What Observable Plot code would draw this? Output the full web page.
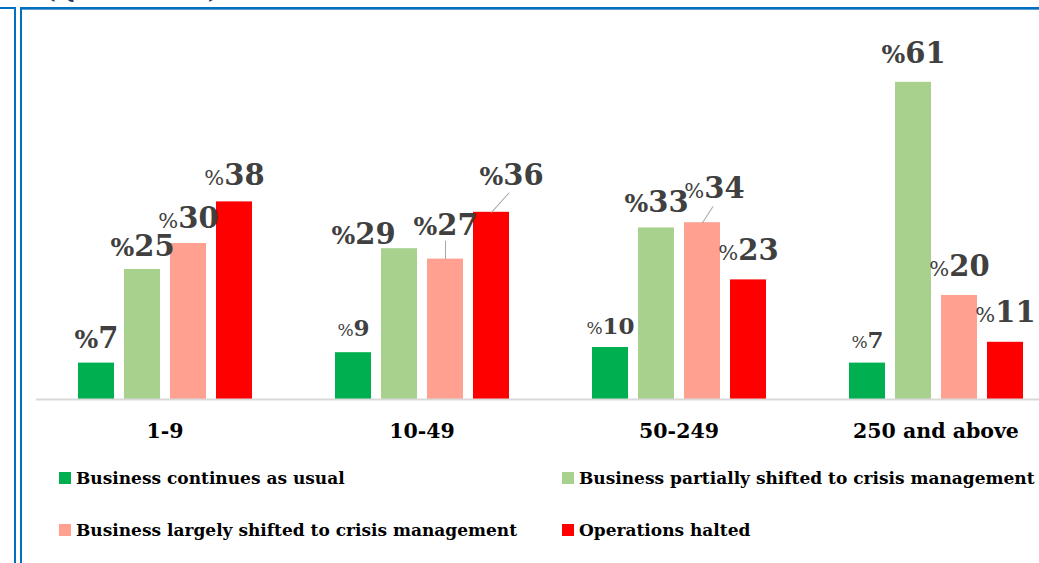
<!DOCTYPE html>
<html><head><meta charset="utf-8">
<script src="https://cdn.jsdelivr.net/npm/d3@7"></script>
<script src="https://cdn.jsdelivr.net/npm/@observablehq/plot@0.6"></script>
<style>
html,body{margin:0;padding:0;background:#fff;}
body{width:1039px;height:563px;overflow:hidden;position:relative;font-family:"DejaVu Serif",serif;}
#chart{position:absolute;left:0;top:0;}
#chart svg{max-width:none !important;}
.fr{position:absolute;background:#0070c0;}
.fr2{position:absolute;background:#5b9bd5;}
#title{position:absolute;left:44px;top:-25px;font:bold 25px "DejaVu Serif",serif;color:#1f3864;white-space:nowrap;}
#legend{position:absolute;left:59px;top:466px;display:grid;grid-template-columns:503px auto;row-gap:28px;}
.item{display:flex;align-items:center;height:24px;font:bold 17px "DejaVu Serif",serif;color:#000;white-space:nowrap;}
.sw{width:12px;height:12px;margin-right:5px;flex:none;}
</style></head>
<body>
<div id="title">(Question 4)</div>
<div id="chart"></div>
<div id="legend"></div>
<div class="fr" style="left:0;top:7px;width:16px;height:2px"></div>
<div class="fr" style="left:14px;top:7px;width:2px;height:560px"></div>
<div class="fr" style="left:20px;top:7px;width:2px;height:560px"></div>
<div class="fr" style="left:20px;top:7px;width:1019px;height:2px"></div>
<div class="fr2" style="left:22px;top:9px;width:1017px;height:1px"></div>
<script>
// ---- data ----
const groups = ["1-9", "10-49", "50-249", "250 and above"];
const series = [
  "Business continues as usual",
  "Business partially shifted to crisis management",
  "Business largely shifted to crisis management",
  "Operations halted"
];
const continuesAsUsual = [7, 9, 10, 7];
const partiallyShifted = [25, 29, 33, 61];
const largelyShifted = [30, 27, 34, 20];
const operationsHalted = [38, 36, 23, 11];

// ---- styles (separate from data) ----
const seriesColors = ["#00b050", "#a9d18e", "#ffa091", "#ff0000"];
// label style per group (rows) and series (columns): "B" big with big %, "b" big digits small %, "s" small
const labelKind = [
  ["B", "B", "b", "b"],
  ["s", "B", "B", "B"],
  ["s", "B", "b", "b"],
  ["s", "B", "b", "b"]
];
const labelDx = [
  [0, 0, 0, 0],
  [0, -36, 0, 20],
  [0, 0, 12, 0],
  [0, 0, 0, 0]
];
const labelDy = [
  [-15, -14, -16, -16.5],
  [-17, -5, -24, -27],
  [-14, -15.5, -25, -19.5],
  [-15, -19, -20, -20]
];
// leader lines: [group, series index, length px, rotate deg]
const leaderLines = [
  ["10-49", 2, 18, 0],
  ["10-49", 3, 26, 42],
  ["50-249", 2, 19, 33]
];

const seriesValues = [continuesAsUsual, partiallyShifted, largelyShifted, operationsHalted];
const rows = [];
groups.forEach((g, gi) => series.forEach((s, si) => {
  rows.push({group: g, series: s, value: seriesValues[si][gi], kind: labelKind[gi][si],
             dx: labelDx[gi][si], dy: labelDy[gi][si], idx: rows.length});
}));
const leaders = leaderLines.map(([g, si, len, rot]) => ({
  group: g, series: series[si], value: seriesValues[si][groups.indexOf(g)], len, rot
}));

const chart = Plot.plot({
  width: 1064,
  height: 450,
  marginTop: 35,
  marginBottom: 51,
  marginLeft: 35,
  marginRight: 0,
  style: {fontFamily: "DejaVu Serif", fontSize: "20.5px", fontWeight: "bold", color: "#000", background: "transparent", overflow: "visible", maxWidth: "none"},
  fx: {domain: groups, padding: 0, label: null, tickSize: 0, tickPadding: 24, axis: "bottom"},
  x: {domain: series, paddingInner: 0.223, paddingOuter: 0.846, axis: null},
  y: {domain: [0, 70], axis: null},
  color: {domain: series, range: seriesColors},
  length: {type: "identity"},
  marks: [
    Plot.barY(rows, {fx: "group", x: "series", y: "value", fill: "series"}),
    Plot.ruleY([0], {stroke: "#d9d9d9", strokeWidth: 2}),
    Plot.vector(leaders, {fx: "group", x: "series", y: "value", length: "len", rotate: "rot",
      anchor: "start", stroke: "#a6a6a6", strokeWidth: 1,
      shape: {draw(context, l) { context.moveTo(0, 0); context.lineTo(0, -l); }}}),
    ...rows.map(r => Plot.text([r], {fx: "group", x: "series", y: "value",
      text: d => d.value + "|" + d.idx, dx: r.dx, dy: r.dy, lineAnchor: "bottom",
      textAnchor: "middle", fill: "#404040"}))
  ]
});
document.getElementById("chart").append(chart);

// split each label into a "%" sign and the number with their own sizes
const NS = "http://www.w3.org/2000/svg";
chart.querySelectorAll("text").forEach(t => {
  if (!t.textContent.includes("|")) return;
  const parts = t.textContent.split("|");
  const r = rows[+parts[1]];
  t.textContent = "";
  const pct = document.createElementNS(NS, "tspan");
  const num = document.createElementNS(NS, "tspan");
  pct.textContent = "%";
  num.textContent = parts[0];
  if (r.kind === "B") { pct.setAttribute("font-size", 25); pct.setAttribute("font-weight", "bold"); num.setAttribute("font-size", 29); }
  else if (r.kind === "b") { pct.setAttribute("font-size", 21); pct.setAttribute("font-weight", "normal"); num.setAttribute("font-size", 29); }
  else { pct.setAttribute("font-size", 17); pct.setAttribute("font-weight", "normal"); num.setAttribute("font-size", 23); }
  num.setAttribute("font-weight", "bold");
  t.append(pct, num);
});

// legend
const legend = document.getElementById("legend");
series.forEach((s, i) => {
  const it = document.createElement("div");
  it.className = "item";
  const sw = document.createElement("span");
  sw.className = "sw";
  sw.style.background = seriesColors[i];
  it.append(sw, document.createTextNode(s));
  legend.append(it);
});
</script>
</body></html>
